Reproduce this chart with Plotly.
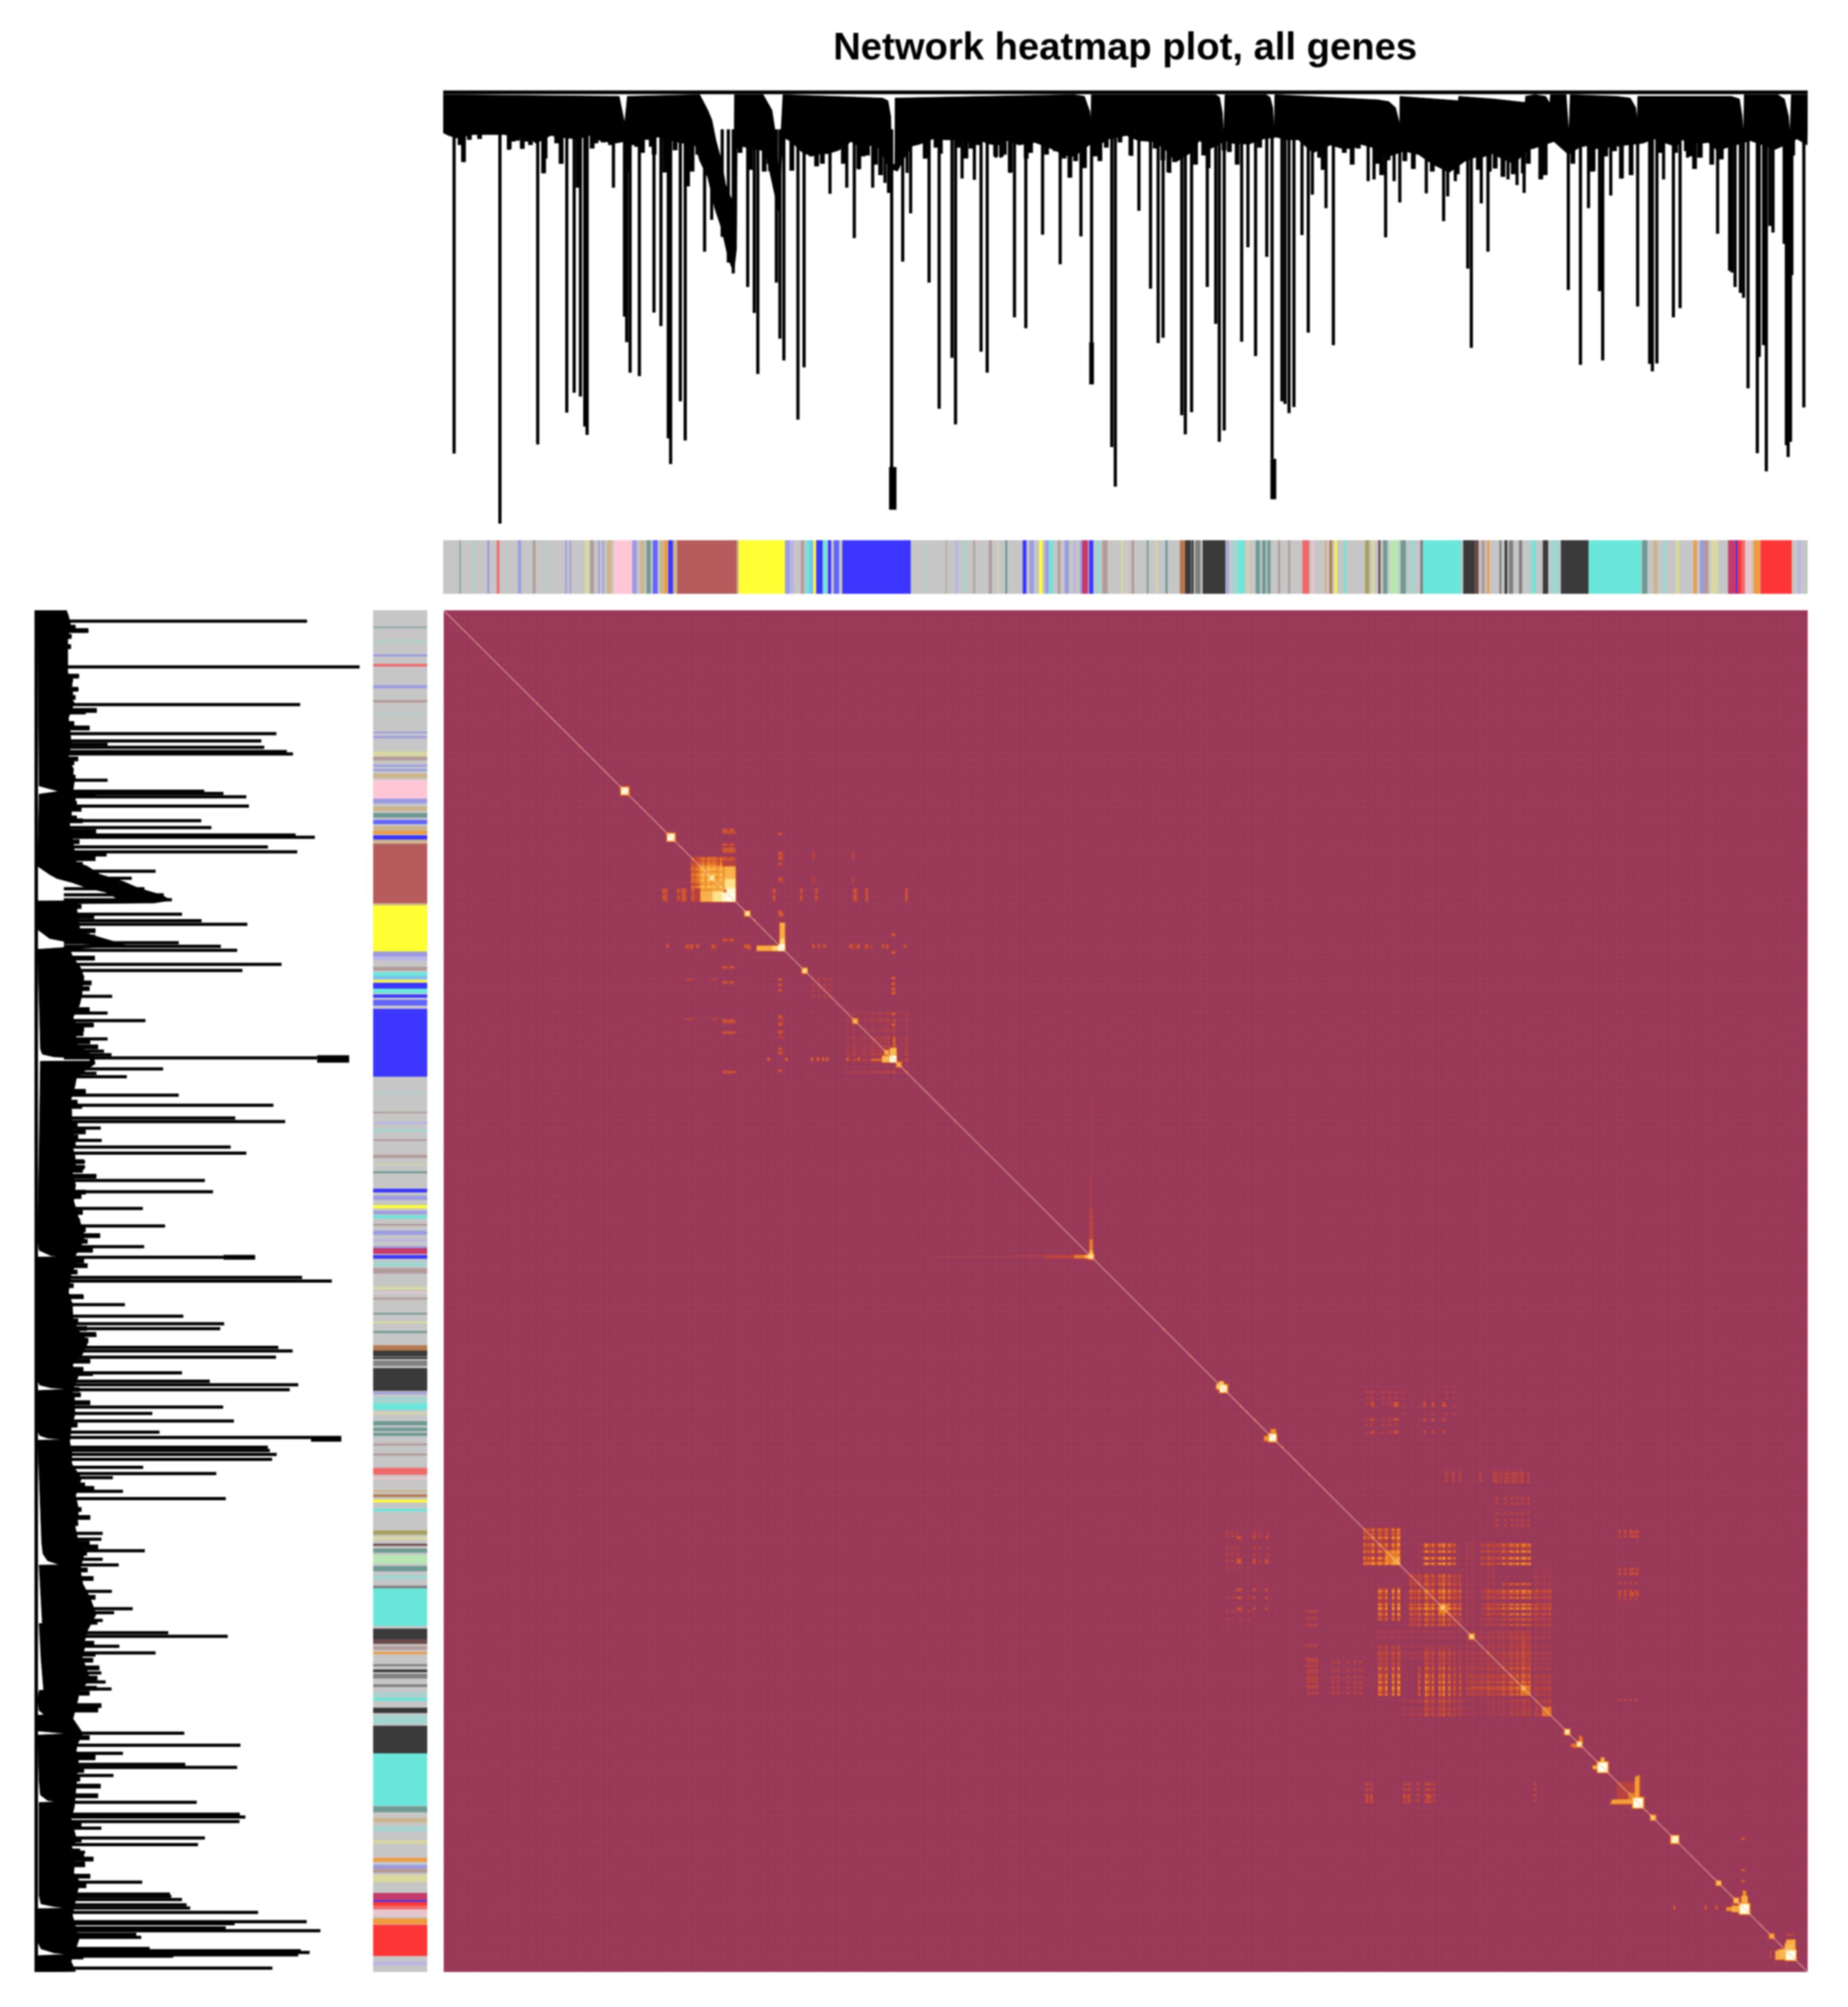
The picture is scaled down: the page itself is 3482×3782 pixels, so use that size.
import numpy as np
import plotly.graph_objects as go

W, H = 3482, 3782
title_text = "Network heatmap plot, all genes"

# dendrogram canopy. rank = gene order 0-1000, depth = 0 (top) to 1000 (lowest merge)
canopy_top_rank = [0, 129, 133, 135, 188, 194, 197, 200, 204, 207, 213, 213.5, 234.5, 241, 244, 246, 249, 322, 326, 328,
                   329, 331, 331.2, 462, 470, 474, 474.7, 475, 566, 569, 571, 572, 573, 603, 606, 608, 609, 609.5,
                   685, 693, 698, 701, 701.2, 718, 744, 744.2, 770, 793, 793.2, 800, 808, 811, 811.5, 823, 825, 826,
                   860, 870, 874, 875, 875.5, 944, 950, 952, 953, 953.5, 978, 983, 986, 987, 988, 1000]
canopy_top_depth = [10, 14, 75, 14, 10, 46, 69, 116, 162, 217, 263, 10, 10, 46, 108, 190, 10, 18, 24, 60,
                    170, 170, 18, 10, 14, 50, 78, 10, 10, 16, 50, 100, 10, 10, 16, 40, 90, 10,
                    22, 26, 40, 78, 14, 18, 24, 14, 20, 28, 14, 10, 14, 30, 10, 10, 100, 10,
                    14, 18, 40, 70, 14, 14, 20, 60, 100, 10, 10, 20, 60, 100, 10, 10]
canopy_bottom_rank = [0, 4, 10, 16, 22, 30, 37, 45, 55, 64, 68, 79, 90, 99, 107, 115, 126, 139, 149, 158, 170, 185,
                      188, 194, 199, 204, 209, 213, 215, 215.5, 220, 228, 236, 243, 246, 249, 255, 262, 267, 271, 277,
                      282, 290, 299, 307, 316, 320, 327, 333, 339, 344, 349.4, 359, 368.6, 380.4, 384.6, 392, 400.6,
                      407, 413.4, 422, 433.7, 445.4, 456, 462.5, 475.3, 479.5, 488, 500.9, 509.4, 520, 528.6, 537,
                      547.8, 554.2, 562.7, 573.4, 577.7, 590.5, 601.1, 610.7, 618.2, 626.7, 637.4, 650.2, 658.7, 667.2,
                      672.2, 683.9, 691.4, 704.2, 714.9, 725, 737.3, 749, 756.5, 761.8, 769.3, 772.5, 785, 794.8, 799.1,
                      814, 824.7, 836.4, 840.7, 857.8, 870, 879.1, 887.6, 896.2, 903.6, 907.9, 913.2, 922.8, 927.1,
                      935.6, 938.8, 958, 976.2, 983.6, 992.2, 999.6, 1000]
canopy_bottom_depth = [98, 104, 110, 106, 102, 102, 102, 102, 108, 112, 122, 104, 110, 112, 104, 116, 122, 114, 108, 108,
                       118, 128, 162, 201, 271, 318, 388, 419, 365, 131, 130, 135, 140, 240, 280, 108, 118, 140, 148,
                       150, 146, 146, 138, 118, 134, 124, 136, 180, 186, 150, 128, 124, 112, 114, 114, 120, 114, 124,
                       126, 116, 126, 120, 134, 150, 152, 122, 128, 112, 104, 116, 118, 134, 165, 144, 116, 134, 116,
                       122, 124, 112, 108, 114, 114, 144, 126, 134, 134, 124, 134, 154, 140, 148, 170, 189, 163, 154,
                       154, 146, 152, 170, 136, 134, 118, 148, 124, 136, 130, 125, 122, 112, 122, 130, 114, 120, 122,
                       120, 144, 134, 116, 136, 126, 112, 126, 53]

# single long branches hanging under the canopy
drop_rank = [8, 15.1, 41.6, 48, 58, 69.3, 73.2, 87, 90.6, 96, 98.4, 100.6, 103.8, 105.5, 124.8, 132.9, 134.5, 137,
             143.8, 154.5, 159.6, 162.2, 165, 166.7, 173.8, 177.4, 179.7, 191.6, 196.8, 204.5, 209, 212.6, 223.2,
             228, 230.6, 235.5, 239.3, 244.2, 246.8, 249.7, 256, 260, 264.5, 273.8, 283.5, 295.8, 301.3, 304.8,
             314.8, 323.8, 326.4, 328.7, 336.8, 340, 342.6, 353.2, 356.1, 363.5, 372.9, 375.5, 380.3, 389.3, 394.2,
             398.7, 405.1, 408.7, 415.5, 418.7, 427, 439.3, 452.2, 459.3, 467.4, 469.7, 475.2, 481, 490, 492.6,
             504.6, 509.9, 518.4, 524, 527.6, 532.5, 537, 541.3, 543.9, 548.5, 551.2, 560, 566.2, 568.8, 572.4, 576,
             581.9, 585.2, 589.8, 595.4, 598, 603.6, 607.5, 614.7, 617, 619.9, 623.5, 629.4, 634, 637, 647, 652.4,
             666.4, 677.9, 682.2, 690.7, 696.9, 701.1, 711, 720.5, 724.7, 733.2, 736.2, 741.8, 750.9, 753.5, 760.8,
             765.7, 776.5, 780.4, 787, 792.2, 804, 808.2, 824.6, 828.2, 833.5, 839.4, 843.3, 847.5, 849.8, 855.7,
             863.9, 875.4, 884.2, 886.2, 889.5, 894.4, 901.6, 906.5, 912, 917.3, 921.9, 934, 942.8, 944.5, 946.8,
             950.7, 953, 956.3, 963.1, 964.5, 967.7, 969.7, 972.3, 974.6, 982.8, 984.4, 985.7, 987.4, 988.4, 989.4,
             997.2]
drop_depth = [835, 165, 996, 137, 135, 814, 190, 169, 741, 695, 224, 704, 773, 792, 224, 520, 579, 649,
              657, 511, 542, 186, 800, 859, 715, 805, 221, 371, 298, 337, 396, 421, 452,
              512, 652, 186, 186, 442, 571, 621, 184, 757, 637, 174, 238, 224, 340, 182,
              224, 213, 236, 866, 394, 190, 283, 157, 442, 732, 615, 768, 203, 206, 601,
              649, 155, 155, 190, 522, 547, 332, 400, 201, 336, 178, 579, 161, 820, 911,
              151, 277, 456, 581, 569, 190, 162, 747, 791, 740, 170, 452, 537, 808, 782, 140,
              170, 578, 361, 611, 131, 383, 847, 715, 721, 742, 728, 333, 557, 240, 271, 586,
              170, 209, 205, 338, 209, 258, 180, 237, 186, 301, 244, 209, 410, 592, 260,
              371, 193, 205, 218, 236, 205, 193, 459, 166, 631, 271, 186, 462, 621, 242,
              201, 497, 629, 646, 628, 205, 522, 501, 155, 179, 155, 330, 415, 419, 452,
              466, 477, 685, 834, 613, 586, 876, 312, 327, 353, 816, 843, 808, 425, 148,
              729]

# the short teeth along the lower edge of the canopy
tooth_rank = [12.4, 14.9, 19.2, 26.7, 48.4, 51.2, 54.4, 58, 61.4, 64, 73.6, 74.7, 83.2, 86.4, 109.2, 112, 117.3, 122.6,
              134.4, 139.7, 141.8, 146.1, 149.3, 152.5, 154.6, 162.5, 170, 182.4, 186.6, 214.4, 217.6, 225, 235.3,
              238.9, 255.5, 269.8, 273.7, 277.9, 286.9, 293.3, 304.6, 307.8, 311, 316.8, 320.6,
              353.3, 361.2, 364.4, 378.2, 383.1, 386.8, 391.7, 404.9, 409.2, 411.3, 415.6, 427.3, 430.5, 442.2, 448.6,
              455, 459.3, 463.5, 470, 477.8, 481.3, 486, 496, 504, 521.8, 527.5, 531.8, 536, 551.4, 557.4, 560.6,
              572.3, 576.2, 581.9, 598.4, 642.3, 644.9, 660.4, 666.2,
              670.7, 685, 687.8, 692.5, 704.8, 711, 724.9, 743.2, 758.6, 766.7, 771, 776.7, 784.2, 791.6, 795.3, 804.4,
              807.6, 827.9, 835.4, 842.2, 852, 858.4, 863.5, 870.6, 891.9, 903.2, 911.1, 913.9, 917.1, 920.7, 929.7,
              936.7, 989]
tooth_depth = [126, 165, 114, 112, 136, 118, 116, 134, 118, 126, 191, 157, 122, 169, 134, 122, 120, 126,
               187, 126, 130, 144, 114, 130, 148, 189, 138, 187, 148, 134, 144, 183, 187,
               169, 185, 152, 175, 169, 140, 169, 181, 152, 150, 171, 195,
               157, 132, 146, 132, 157, 134, 126, 152, 152, 148, 189, 157, 144, 148, 140,
               157, 201, 163, 179, 152, 163, 132, 120, 150, 134, 161, 189, 165, 171, 150, 179,
               138, 142, 171, 132, 155, 183, 144, 171,
               134, 169, 195, 161, 163, 181, 187, 193, 183, 187, 180, 199, 193, 191, 169, 205,
               195, 169, 130, 187, 152, 140, 203, 195, 144, 144, 140, 152, 181, 155, 171,
               159, 150]

# the few branches that end in a fat stub
stub_rank = [329.5, 475.2, 608.4]
stub_from = [866, 579, 847]
stub_to = [964, 676, 940]
stub_width = [14, 9, 11]

# module colour bar, stripes on top of the grey background
module_colors = {
    "grey": "#c6c6c6", "peri": "#9b9be2", "coral": "#f06a6a", "rosy": "#b39a9a", "dteal": "#6f9a94", "lteal": "#a3d4cf",
    "khaki": "#d8d8a0", "tan": "#cdb48c", "pink": "#ffc6d6", "blue2": "#6464ff", "orange": "#ef9a3c", "blue": "#3c36ff",
    "brown": "#b65c5c", "yellow": "#ffff33", "lav": "#b9b4e6", "turq": "#6ae6da", "sky": "#7cc0ee", "dark": "#3a3a3a",
    "mid": "#808080", "sienna": "#b5794f", "green": "#b8e6b4", "red": "#ff3636", "crim": "#c43a6a", "pale": "#e6c6cc",
    "olive": "#a8a060", "dbrown": "#6e4a4a",
}
stripe_start = [11.9, 22.2, 32.2, 39.3, 54.8, 65.8, 75.5, 89.3, 92.5, 103.8, 107.7, 113.5, 116.7, 120, 124.8, 138.4,
                144.2, 149, 153.8, 158.7, 162, 165.1, 168.4, 171.6, 215.1, 216.8, 250.6, 253.9, 262, 265.8, 268.4,
                271.6, 273.5, 278, 282, 286.1, 292.6, 353.9, 368.4, 375.5, 381.3, 388.4, 400, 406.4, 412, 424.8,
                429.7, 436.8, 441, 444.2, 450.6, 455.5, 462, 466.8, 468.4, 473.5, 478, 483.2,
                496.8, 500.4, 504.6, 515.8, 522.3, 529.2, 539.7, 543.6, 548.5, 551.2, 556.4, 574, 578, 582.6, 589.1,
                595.4, 600.3, 604.2, 611.7, 619.3, 629.8, 636.3, 646.1, 649.4, 653.3, 659.9, 675.6, 680.5, 685.4,
                689, 693.6, 701.8, 708.4, 716.2, 718.2, 747.7, 755.8, 760.8, 765, 773.9, 777.8, 781, 788.6, 795.1,
                798.4, 806, 811.5, 819, 839.4, 878.6, 886.8, 893.4, 903.2, 916.3, 921.2, 923.9, 928.8, 941.8, 947.4,
                948.7, 951.3, 954, 960.5, 965.4, 992.6]
stripe_end = [12.9, 23.2, 33.8, 41.3, 57.1, 67.7, 76.4, 90.6, 93.8, 107.1, 110.3, 114.8, 118, 123.2, 138.4, 141.9,
              147.4, 152.2, 157.1, 162, 164.5, 168.4, 171.6, 215.1, 216.8, 250.6, 253.9, 257.1, 264.5, 268.4, 271,
              273.2, 278, 281.3, 284.5, 290.3, 342.6, 354.8, 369.3, 377.4, 383.2, 389.7, 402.2, 407.4, 413.5, 427.4,
              432.9, 439.3, 443.6, 446.8, 452.2, 458.7, 463.5, 468.4, 472.6, 476.4, 482, 487,
              498.7, 501.4, 506.3, 517.1, 523.6, 530.8, 543.6, 547.9, 549.8, 555, 573.4, 575.7, 582.6, 587.2, 590.4,
              598.6, 602.9, 606.2, 613.4, 620.9, 634.7, 638.3, 647.8, 651.4, 655, 661.8, 678.9, 682.8, 687,
              692, 700.2, 705.7, 711.6, 718.2, 746, 755.8, 759, 763.4, 766.6, 775.5, 779.8, 784.3, 790.9, 797.4,
              800.7, 809.9, 818, 839.4, 878, 882.6, 890, 896.7, 905.8, 918.9, 923.9, 927.1, 934.3, 947.4, 948.7,
              951.3, 954, 958.9, 964.8, 988.4, 994.9]
stripe_color = ["dteal", "lteal", "peri", "coral", "peri", "rosy", "lteal", "peri", "peri", "khaki", "rosy", "peri",
                "peri", "tan", "pink", "peri", "tan", "dteal", "blue2", "tan", "orange", "blue", "tan", "brown", "tan",
                "yellow", "peri", "lav", "rosy", "turq", "sky", "yellow", "blue", "turq", "blue", "blue2", "blue",
                "lteal", "rosy", "lav", "lteal", "rosy", "rosy", "khaki", "dteal", "blue", "peri", "yellow", "peri",
                "turq", "rosy", "peri", "lav", "peri", "crim", "blue", "lteal", "rosy",
                "khaki", "pale", "rosy", "dteal", "khaki", "dteal", "sienna", "dark", "dark", "mid", "dark", "peri",
                "lteal", "turq", "khaki", "dteal", "dteal", "dteal", "rosy", "rosy", "coral", "pale", "tan", "sienna",
                "yellow", "turq", "olive", "khaki", "dbrown", "dteal", "green", "dteal", "lteal", "mid", "turq", "dark",
                "dbrown", "rosy", "orange", "mid", "dark", "mid", "mid", "lteal", "turq", "dark", "lteal", "dark",
                "turq", "dteal", "tan", "lteal", "khaki", "orange", "peri", "rosy", "khaki", "crim", "blue", "red",
                "coral", "pale", "orange", "red", "lav"]

# heatmap hot spots on the diagonal: rank, half size in cells, level 0-1
spot_rank = [68.5, 99.5, 118, 132.5, 147, 161, 166.4, 173.8, 182, 191.5, 196, 222.8, 227.9, 264.2, 276.3, 284, 301.5,
             315.3, 324, 333.7, 339.6, 353.6, 364, 374, 397, 474.5, 527, 547, 571, 584.3, 588.9, 594.8, 607.7, 614,
             623, 634.5, 645.5, 701, 732.5, 753.6, 765, 776.8, 791.3, 808, 823, 832.6, 849, 875, 881.8, 884, 886.5,
             902.2, 934.9, 943.4, 947.6, 953.5, 957.5, 965.3, 973.2, 987]
spot_size = [0, 0, 0, 2, 0, 0, 2, 0, 0, 0, 1, 1, 0, 1, 0, 0, 1,
             0, 1, 1, 0, 0, 0, 0, 0, 1, 0, 0, 2, 0, 0, 0, 2, 0,
             0, 0, 0, 0, 1, 1, 0, 0, 1, 0, 1, 1, 3, 3, 0, 0, 1,
             2, 1, 0, 1, 3, 0, 0, 1, 3]
spot_level = [.45, .45, .4, 1, .4, .5, 1, .7, .55, .7, .9, .9, .75, .85, .45, .5, .65,
              .45, .6, .6, .5, .4, .35, .7, .75, .9, .6, .7, .95, .7, .7, .75, 1, .7,
              .6, .45, .5, .6, .75, .85, .7, .5, .65, .5, 1, 1, 1, 1, .65, .6, .75,
              .95, .7, .6, .7, 1, .75, .5, .6, 1]

# rectangles of raised overlap: row from, row to, col from, col to, level (mirrored across the diagonal)
brown_blocks = [(188, 197, 188, 214, .5), (188, 197, 206, 214, .62), (197, 205, 197, 206, .55),
                (197, 205, 206, 214, .8), (204, 214, 207, 214, .95), (208, 214, 208, 214, 1)]
yellow_blocks = [(229, 250, 246, 250, .6), (241, 250, 246, 250, .75), (245, 250, 245, 250, 1), (222, 225, 246, 249, .3)]
blue_blocks = [(321, 332, 327, 332, .65), (327, 332, 327, 332, 1), (329, 331, 313, 320, .35)]
mid_blocks = [(360, 450, 474, 475, .1), (450, 476, 474, 476, .2), (465, 476, 474, 476, .35), (473, 475, 416, 440, .1),
              (473, 476, 440, 462, .18), (473, 476, 462, 476, .42), (473, 476, 470, 476, .65), (566, 572, 568, 572, .7),
              (601, 606, 606, 610, .5)]
turquoise_blocks = [(675, 701, 698, 701, .3), (690, 701, 690, 701, .42), (696, 701, 696, 701, .55),
                    (707, 745, 732, 734, .28), (729, 736, 729, 736, .42), (789, 797, 789, 797, .38),
                    (755, 797, 790, 792, .24), (805, 812, 805, 812, .4)]
tail_blocks = [(860, 876, 860, 876, .18), (868, 876, 868, 876, .38), (856, 876, 873, 876, .55), (873, 876, 873, 876, 1),
               (875, 877, 855, 875, .42), (848, 851, 842, 851, .6), (843, 851, 848, 851, .55),
               (848, 851, 848, 851, 1), (827, 834, 832, 835, .4), (832, 834, 826, 833, .4), (952, 955, 940, 955, .5),
               (944, 955, 951, 956, .6), (951, 955, 951, 955, 1), (945, 949, 945, 949, .45),
               (976, 990, 984, 991, .6), (983, 990, 978, 984, .55), (983, 989, 980, 984, .65), (984, 990, 984, 990, 1),
               (972, 973, 984, 990, .3)]

# cross-hatch inside the large networks: stripe rank and its strength
mesh_rank = [675, 678, 681, 686, 688, 691, 696, 700, 703, 709, 712, 715, 720, 722, 725, 730, 733, 737, 741, 745, 750, 754,
             761, 766, 769.5, 773, 777, 782, 784, 787, 791, 793, 796, 801, 807, 811]
mesh_level = [.6, .5, .75, .7, .45, .75, .8, .85, .4, .5, .4, .55, .75, .5, .65, .7, .85, .7, .5, .5, .35, .4,
              .4, .5, .4, .45, .6, .65, .5, .75, .75, .6, .7, .5, .45, .5]
mesh2_rank = [296, 301, 308, 314, 317, 320, 323, 326, 330, 339]
mesh2_level = [.4, .5, .4, .5, .45, .5, .6, .65, .75, .55]
mesh3_rank = [182, 184, 186, 188, 190, 192, 194, 196, 198, 200, 203]
mesh3_level = [.5, .45, .55, .7, .85, .65, .9, .75, .85, .7, .9]

# patches where the hatch shows: row from, row to, col from, col to, gain
mesh_patches = [(675, 701, 675, 701, 1), (682, 701, 717, 741, 1), (682, 701, 760, 797, .8), (707, 745, 707, 745, 1),
                (720, 745, 762, 812, .85), (683, 701, 776, 797, 1), (715, 745, 776, 797, .95), (750, 797, 750, 797, .85),
                (799, 812, 703, 758, .6), (799, 812, 799, 812, 1), (754, 797, 799, 812, .65), (750, 772, 683, 745, .5)]
mesh2_patches = [(296, 340, 296, 340, .75)]
mesh3_patches = [(182, 214, 182, 214, 1)]

# sparse patches of off-diagonal stripes: rows, columns, level
patch_rows = [[582, 584, 594, 603], [677, 680, 688, 693, 698], [772, 778, 783, 787, 791, 795], [633, 636, 639],
              [677, 680, 704, 707, 721, 723], [862, 866, 870, 874], [205, 207, 210, 212], [163, 175, 177, 183, 302, 310, 339],
              [246, 247], [246, 247], [329, 330], [300, 303, 309, 313, 325], [952, 953], [271, 275, 279, 283],
              [178, 180, 182, 197, 199], [703, 725, 735, 741]]
patch_cols = [[681, 697, 699, 719, 725, 733], [574, 578, 582, 594, 598, 604], [634, 637, 640, 652, 656, 663, 668, 672],
              [735, 740, 745, 760, 770, 775, 780, 785, 790], [862, 866, 870, 872, 875], [676, 680, 708, 714, 720, 726, 800],
              [161, 172, 175, 177, 182, 242, 262, 273, 301, 310, 339], [205, 207, 209, 211, 213],
              [164, 178, 182, 186, 197, 221, 223], [271, 275, 279, 298, 304, 310, 322, 325, 338],
              [238, 251, 270, 274, 278, 281, 296, 304], [246, 248], [902, 925, 933], [271, 275, 279, 283],
              [246, 248, 271, 300], [574, 578, 584, 590]]
patch_level = [.28, .2, .22, .22, .25, .22, .28, .25, .3, .3, .33, .2, .3, .18, .18, .16]

# diagonal line of the matrix
diag_rank = [0, 1000]

# build the overlap matrix from the lists above
N = 1000
tom = np.zeros((N, N), dtype=np.float32)


def raise_cells(r0, r1, c0, c1, lev):
    cells = tom[max(r0, 0):r1, max(c0, 0):c1]
    cells[cells < lev] = lev


for block in [brown_blocks, yellow_blocks, blue_blocks, mid_blocks, turquoise_blocks, tail_blocks]:
    for r0, r1, c0, c1, lev in block:
        raise_cells(r0, r1, c0, c1, lev)
for ranks, levels, patches, floor in [(mesh_rank, mesh_level, mesh_patches, .27), (mesh2_rank, mesh2_level, mesh2_patches, .12),
                                      (mesh3_rank, mesh3_level, mesh3_patches, .3)]:
    for r0, r1, c0, c1, gain in patches:
        for ri, li in zip(ranks, levels):
            if r0 <= ri <= r1:
                raise_cells(int(ri) - 1, int(ri) + 1, c0, c1, floor * li * gain)
            for rj, lj in zip(ranks, levels):
                if r0 <= ri <= r1 and c0 <= rj <= c1:
                    raise_cells(int(ri) - 1, int(ri) + 1, int(rj) - 1, int(rj) + 1, .9 * li * lj * gain)
for rows, cols, lev in zip(patch_rows, patch_cols, patch_level):
    for r in rows:
        for c in cols:
            raise_cells(r - 1, r + 1, c - 1, c + 1, lev)
tom = np.maximum(tom, tom.T)
for r, s, lev in zip(spot_rank, spot_size, spot_level):
    i = int(r)
    # larger spots fade out over a ring of cells
    if s > 0:
        raise_cells(i - s - 1, i + s + 2, i - s - 1, i + s + 2, .5 * lev)
    raise_cells(i - s, i + s + 1, i - s, i + s + 1, lev)
tom = np.round(tom, 2)

heat_scale = [[0, "#993858"], [.1, "#a63b4e"], [.2, "#bd4338"], [.35, "#dd6728"], [.5, "#f0922a"],
              [.7, "#fbc860"], [.85, "#fff0a0"], [1, "#fffff0"]]


def dom(a, b, size):
    return [a / size, b / size]


def ydom(top, bottom):
    return [1 - bottom / H, 1 - top / H]


def branch_path(ranks, depths):
    line_rank, line_depth = [], []
    for r, d in zip(ranks, depths):
        line_rank += [r, r, None]
        line_depth += [90, d, None]
    return line_rank, line_depth


def dendro_traces(xa, ya, flip):
    # same tree is drawn twice, flip=True lays it on its side
    poly_rank = canopy_top_rank + canopy_bottom_rank[::-1]
    poly_depth = canopy_top_depth + canopy_bottom_depth[::-1]
    drop_r, drop_d = branch_path(drop_rank, drop_depth)
    tooth_r, tooth_d = branch_path(tooth_rank, tooth_depth)
    parts = [(poly_rank, poly_depth, dict(color="black", width=1), "toself"),
             (drop_r, drop_d, dict(color="black", width=6), None),
             (tooth_r, tooth_d, dict(color="black", width=9), None),
             ([0, 1000], [5, 5], dict(color="black", width=7), None)]
    for r, d0, d1, w in zip(stub_rank, stub_from, stub_to, stub_width):
        parts.append(([r, r], [d0, d1], dict(color="black", width=w), None))
    out = []
    for rr, dd, ln, fill in parts:
        x, y = (dd, rr) if flip else (rr, dd)
        out.append(go.Scatter(x=x, y=y, mode="lines", line=ln, fill=fill, fillcolor="black",
                              xaxis=xa, yaxis=ya, hoverinfo="skip", showlegend=False))
    return out


def module_traces(xa, ya, flip):
    mids = [(a + b) / 2 for a, b in zip(stripe_start, stripe_end)]
    widths = [b - a for a, b in zip(stripe_start, stripe_end)]
    cols = [module_colors[c] for c in stripe_color]
    if flip:
        back = go.Bar(y=[500], x=[1], width=[1000], orientation="h", marker=dict(color=module_colors["grey"], line_width=0))
        bars = go.Bar(y=mids, x=[1] * len(mids), width=widths, orientation="h", marker=dict(color=cols, line_width=0))
    else:
        back = go.Bar(x=[500], y=[1], width=[1000], marker=dict(color=module_colors["grey"], line_width=0))
        bars = go.Bar(x=mids, y=[1] * len(mids), width=widths, marker=dict(color=cols, line_width=0))
    for t in (back, bars):
        t.update(xaxis=xa, yaxis=ya, hoverinfo="skip", showlegend=False)
    return [back, bars]


fig = go.Figure()
for t in dendro_traces("x", "y", False):
    fig.add_trace(t)
for t in module_traces("x2", "y2", False):
    fig.add_trace(t)
for t in dendro_traces("x3", "y3", True):
    fig.add_trace(t)
for t in module_traces("x4", "y4", True):
    fig.add_trace(t)
fig.add_trace(go.Heatmap(z=tom, x0=.5, dx=1, y0=.5, dy=1, zmin=0, zmax=1, colorscale=heat_scale, showscale=False,
                         zsmooth="best", xaxis="x5", yaxis="y5", hoverinfo="skip"))
fig.add_trace(go.Scatter(x=diag_rank, y=diag_rank, mode="lines", line=dict(color="rgba(244,190,165,0.65)", width=2),
                         xaxis="x6", yaxis="y6", hoverinfo="skip", showlegend=False))

hidden = dict(visible=False, showgrid=False, zeroline=False, fixedrange=True)
# faint plaid lying over the heatmap
plaid = dict(visible=True, showgrid=True, gridcolor="rgba(255,255,255,0.025)", gridwidth=2, dtick=5, zeroline=False,
             showticklabels=False, ticks="", showline=False, fixedrange=True)
fig.update_layout(
    width=W, height=H, margin=dict(l=0, r=0, t=0, b=0), paper_bgcolor="white", plot_bgcolor="rgba(0,0,0,0)",
    barmode="overlay", bargap=0,
    title=dict(text="<b>" + title_text + "</b>", x=2120 / W, y=1 - 87 / H, xanchor="center", yanchor="middle",
               font=dict(family="Liberation Sans", size=72, color="black")),
    xaxis=dict(domain=dom(835, 3406, W), range=[0, 1000], **hidden),
    yaxis=dict(domain=ydom(170, 990), range=[1000, 0], **hidden),
    xaxis2=dict(domain=dom(835, 3406, W), range=[0, 1000], **hidden),
    yaxis2=dict(domain=ydom(1018, 1119), range=[0, 1], **hidden),
    xaxis3=dict(domain=dom(65, 680, W), range=[0, 1000], **hidden),
    yaxis3=dict(domain=ydom(1150, 3716), range=[1000, 0], **hidden),
    xaxis4=dict(domain=dom(703, 805, W), range=[0, 1], **hidden),
    yaxis4=dict(domain=ydom(1150, 3716), range=[1000, 0], **hidden),
    xaxis5=dict(domain=dom(836, 3406, W), range=[0, 1000], **hidden),
    yaxis5=dict(domain=ydom(1150, 3716), range=[1000, 0], **hidden),
    xaxis6=dict(domain=dom(836, 3406, W), range=[0, 1000], **plaid),
    yaxis6=dict(domain=ydom(1150, 3716), range=[1000, 0], **plaid),
)

# the reference is a soft raster, so the page gets a slight blur
soften = "document.body.style.margin='0';document.querySelector('.js-plotly-plot').style.filter='blur(1.4px)';"
fig.write_html("out.html", post_script=soften, config={"displayModeBar": False})
